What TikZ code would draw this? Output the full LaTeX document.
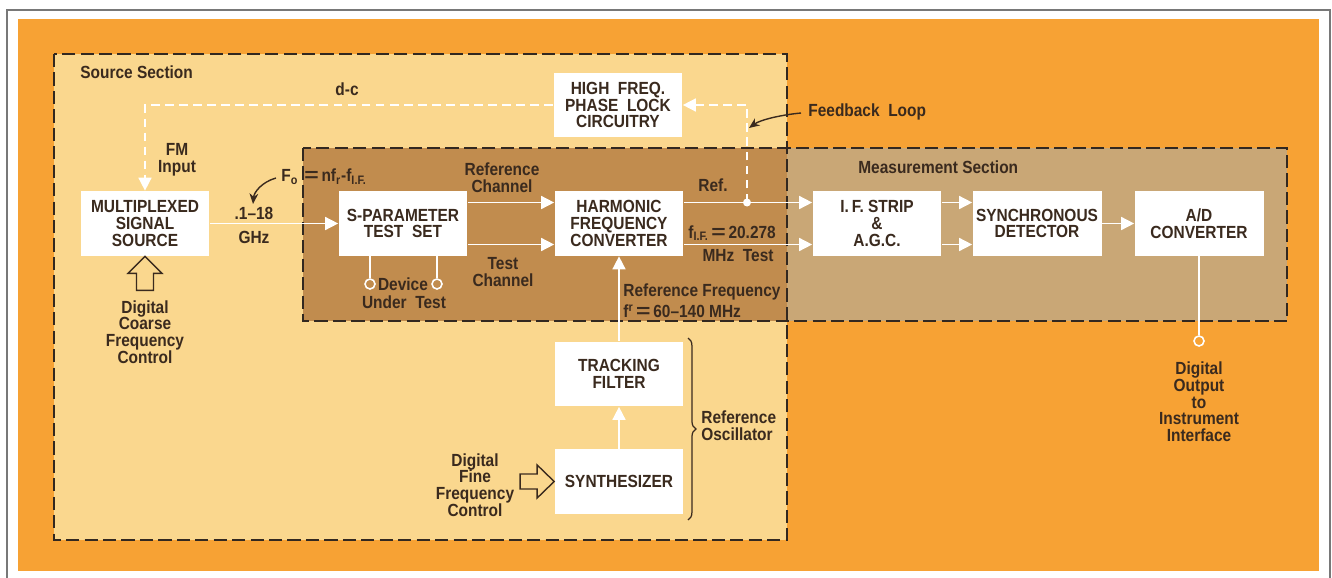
\documentclass[tikz,border=0pt]{standalone}
\usepackage{fontspec}
\usepackage{graphicx}
\setmainfont{Liberation Sans}[FakeStretch=0.88]
\usetikzlibrary{arrows.meta,calc,decorations.pathreplacing}
\definecolor{OrangeBg}{RGB}{247,162,52}
\definecolor{CreamBg}{RGB}{250,215,142}
\definecolor{BrownBg}{RGB}{193,140,78}
\definecolor{TanBg}{RGB}{201,167,118}
\definecolor{TextClr}{RGB}{58,42,30}
\definecolor{EdgeClr}{RGB}{50,40,32}
\definecolor{FrameClr}{RGB}{120,120,120}
\newcommand\DiagFont{\fontsize{10}{9.5}\selectfont\bfseries}
\newcommand\WideEq{\hspace{1.5pt}\scalebox{1.6}[1.1]{=}\hspace{1.5pt}}

\begin{document}
\begin{tikzpicture}[x=0.02cm,y=-0.02cm,
  blk/.style={fill=white,minimum width=2.58cm,minimum height=1.3cm,inner sep=0pt,
    align=center,font=\DiagFont,text=TextClr},
  lbl/.style={inner sep=0pt,align=center,font=\DiagFont,text=TextClr},
  wire/.style={draw=white,line width=0.9pt},
  sig/.style={wire,-{Triangle[length=0.26cm,width=0.26cm]}},
  fb/.style={sig,dash pattern=on 5pt off 3pt},
  sect/.style={draw=EdgeClr,line width=1.1pt,dash pattern=on 7.5pt off 3pt},
  port/.style={circle,draw=white,line width=0.9pt,minimum size=0.2cm,inner sep=0pt},
  ptr/.style={draw=TextClr,line width=0.8pt,-{Stealth[length=6pt,width=5pt]}},
  hollow/.style={draw=TextClr,line width=0.8pt,line join=miter}]

\useasboundingbox[fill=white] (0,0) rectangle (1332,578);
\draw[FrameClr,line width=0.6pt] (7,578) -- (7,10) -- (1330,10) -- (1330,578);
\fill[OrangeBg] (18,19) rectangle (1319,571);

% sections
\fill[CreamBg] (54,54) rectangle (787,540);
\fill[BrownBg] (303,148) rectangle (787,321);
\fill[TanBg] (787,148) rectangle (1287,321);
\draw[sect] (54,54) rectangle (787,540);
\draw[sect] (303,148) rectangle (1287,321);
\node[lbl,anchor=west] (srclbl) at (80,72) {Source Section};
\node[lbl,anchor=west] (measlbl) at (858,167) {Measurement Section};

% blocks
\node[blk] (mss) at (145,223.5) {MULTIPLEXED\\SIGNAL\\SOURCE};
\node[blk] (spt) at (403,223.5) {S-PARAMETER\\TEST~~SET};
\node[blk] (hfc) at (619,223.5) {HARMONIC\\FREQUENCY\\CONVERTER};
\node[blk] (pll) at (618,105) {HIGH~~FREQ.\\PHASE~~LOCK\\CIRCUITRY};
\node[blk] (trk) at (619,374) {TRACKING\\FILTER};
\node[blk] (syz) at (619,481.5) {SYNTHESIZER};
\node[blk] (ifs) at (877,223.5) {I.\,F.~STRIP\\\&\\A.G.C.};
\node[blk] (syn) at (1037,223.5) {SYNCHRONOUS\\DETECTOR};
\node[blk] (adc) at (1199,223.5) {A/D\\CONVERTER};

% signal paths
\draw[sig] (mss) -- (spt);
\draw[sig] ([yshift=.42cm]spt.east) -- ([yshift=.42cm]hfc.west);
\draw[sig] ([yshift=-.42cm]spt.east) -- ([yshift=-.42cm]hfc.west);
\draw[sig] ([yshift=.42cm]hfc.east) -- ([yshift=.42cm]ifs.west);
\draw[sig] ([yshift=-.42cm]hfc.east) -- ([yshift=-.42cm]ifs.west);
\draw[sig] ([yshift=.42cm]ifs.east) -- ([yshift=.42cm]syn.west);
\draw[sig] ([yshift=-.42cm]ifs.east) -- ([yshift=-.42cm]syn.west);
\draw[sig] (syn) -- (adc);
\draw[sig] (trk) -- (hfc);
\draw[sig] (syz) -- (trk);

% feedback loop
\coordinate (jn) at (747,202.5);
\draw[fb] (jn) |- (pll.east);
\draw[fb] (pll.west) -| (mss.north);
\fill[white] (jn) circle (0.08cm);

% ports
\node[port] (dut1) at (370,284) {};
\node[port] (dut2) at (437,284) {};
\node[port] (dout) at (1199,341) {};
\draw[wire] (spt.south -| dut1) -- (dut1.north);
\draw[wire] (spt.south -| dut2) -- (dut2.north);
\draw[wire] (adc) -- (dout.north);

% control inputs
\draw[hollow] (mss.south) -- ++(17,17) -- ++(-8.5,0) -- ++(0,17) -- ++(-17,0)
  -- ++(0,-17) -- ++(-8.5,0) -- cycle;
\draw[hollow] (syz.west) -- ++(-17,-16.5) -- ++(0,9) -- ++(-17,0) -- ++(0,15)
  -- ++(17,0) -- ++(0,9) -- cycle;
\draw[TextClr,line width=0.7pt,decorate,decoration={brace,amplitude=4.5pt}]
  (688,338) -- (688,520);

% labels
\node[lbl] (dclbl) at (347,89) {d-c};
\node[lbl] (fmlbl) at (177,160) {FM\\Input};
\node[lbl] (bandlo) at (254,213) {.1–18};
\node[lbl] (bandhi) at (254,237) {GHz};
\node[lbl,anchor=west] (folbl) at (281,177)
  {F\textsubscript{o}\hspace{2pt}\WideEq nf\textsubscript{r}-f\textsubscript{I.F.}};
\node[lbl] (refch) at (502,178) {Reference\\Channel};
\node[lbl] (testch) at (503,272) {Test\\Channel};
\node[lbl] (devlbl) at (403,284) {Device};
\node[lbl] (dutlbl) at (404,302) {Under~~Test};
\node[lbl] (reflbl) at (713,185) {Ref.};
\node[lbl,anchor=west] (iflbl) at (688,233) {f\textsubscript{I.F.}\WideEq 20.278};
\node[lbl] (mhzlbl) at (738,256) {MHz~~Test};
\node[lbl,anchor=west] (rflbl) at (623,292) {Reference Frequency};
\node[lbl,anchor=west] (frlbl) at (623,311) {f\textsuperscript{r}\WideEq 60–140 MHz};
\node[lbl,anchor=west] (fblbl) at (808,112) {Feedback~~Loop};
\node[lbl,align=left,anchor=west] (osclbl) at (701,426) {Reference\\Oscillator};
\node[lbl] (coarse) at (145,332) {Digital\\Coarse\\Frequency\\Control};
\node[lbl] (fine) at (475,485) {Digital\\Fine\\Frequency\\Control};
\node[lbl] (outlbl) at (1199,402) {Digital\\Output\\to\\Instrument\\Interface};

% pointers
\draw[ptr] (folbl.west) ++(-5,1) .. controls (262,182) and (254,192) .. (253,204);
\draw[ptr] (fblbl.west) ++(-7,1) .. controls (780,115) and (760,120) .. (749,128);

\end{tikzpicture}
\end{document}
